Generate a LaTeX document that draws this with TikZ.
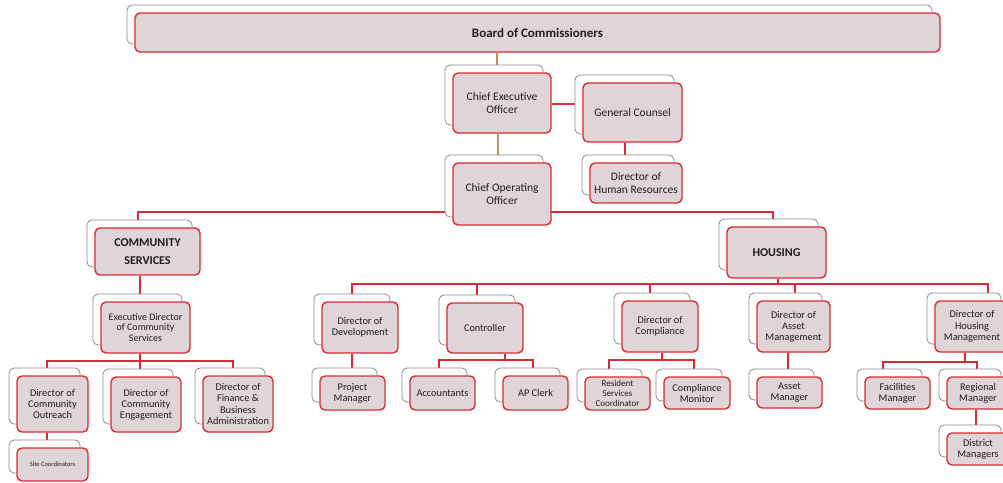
\documentclass[tikz,border=0pt]{standalone}
\usepackage{fontspec}
\setmainfont{Carlito}
\pgfdeclarelayer{background}
\pgfsetlayers{background,main}
\definecolor{boxred}{HTML}{D82C34}
\definecolor{boxfill}{HTML}{DFD5D9}
\definecolor{backgray}{HTML}{8A8A8A}
\definecolor{execline}{HTML}{CC8D55}
\definecolor{txt}{HTML}{1E1E1E}
\tikzset{
  backbox/.style={draw=backgray, fill=white, line width=0.8pt, rounded corners=5pt, inner sep=0pt},
  frontbox/.style={draw=boxred, fill=boxfill, line width=1.4pt, rounded corners=5pt, inner sep=1pt,
    align=center, text=txt, font=\fontsize{10.3}{11}\selectfont},
  bigtext/.style={font=\fontsize{11.5}{13}\selectfont},
  conn/.style={draw=boxred, line width=1.3pt},
  execconn/.style={draw=execline, line width=1.3pt},
}
\newcommand{\orgnode}[7][]{%
  \node[backbox, minimum width=#5, minimum height=#6] (#2b) at ({#3-8},{#4-8}) {};
  \node[frontbox, minimum width=#5, minimum height=#6, #1] (#2) at (#3,#4) {#7};}
\begin{document}
\begin{tikzpicture}[x=1pt,y=-1pt]
\useasboundingbox (0,0) rectangle (1003,482);

\orgnode[font=\bfseries\fontsize{13}{15}\selectfont]{board}{537.5}{32.5}{805}{39}{Board of Commissioners}
\orgnode[bigtext]{ceo}{502}{103}{98}{60}{Chief Executive\\Officer}
\orgnode[bigtext]{gc}{632.5}{112.5}{99}{59}{General Counsel}
\orgnode[bigtext]{dhr}{636}{183}{92}{40}{Director of\\Human Resources}
\orgnode[bigtext]{coo}{502}{194}{98}{62}{Chief Operating\\Officer}

\orgnode[font=\bfseries\fontsize{12}{18}\selectfont]{cs}{147.5}{251.5}{105}{47}{COMMUNITY\\SERVICES}
\orgnode[font=\fontsize{10}{10.7}\selectfont]{edcs}{145.5}{327.5}{89}{51}{Executive Director\\of Community\\Services}
\orgnode{dco}{52.5}{404}{71}{56}{Director of\\Community\\Outreach}
\orgnode{dce}{146}{404.5}{70}{55}{Director of\\Community\\Engagement}
\orgnode[font=\fontsize{10.3}{11.3}\selectfont]{dfba}{238}{404}{70}{56}{Director of\\Finance \&\\Business\\Administration}
\orgnode[font=\fontsize{6.5}{7}\selectfont]{sc}{52.5}{464.5}{71}{33}{Site Coordinators}

\orgnode[font=\bfseries\fontsize{12}{14}\selectfont]{hou}{776.5}{252.5}{99}{51}{HOUSING}
\orgnode{dod}{360}{327.5}{76}{51}{Director of\\Development}
\orgnode{ctrl}{485}{328}{76}{50}{Controller}
\orgnode{pm}{352.5}{393}{65}{34}{Project\\Manager}
\orgnode{acc}{442.5}{393}{65}{34}{Accountants}
\orgnode{apc}{535.5}{393}{65}{34}{AP Clerk}
\orgnode{doc}{660}{326.5}{76}{51}{Director of\\Compliance}
\orgnode[font=\fontsize{9}{10}\selectfont]{rsc}{617.5}{393.5}{65}{33}{Resident\\Services\\Coordinator}
\orgnode{cm}{697}{393}{66}{32}{Compliance\\Monitor}
\orgnode{dam}{793.5}{326.5}{73}{51}{Director of\\Asset\\Management}
\orgnode{am}{789.5}{392.5}{65}{31}{Asset\\Manager}
\orgnode[font=\fontsize{10.3}{11.5}\selectfont]{dhm}{972}{326.5}{74}{51}{Director of\\Housing\\Management}
\orgnode{fm}{897.5}{393}{65}{32}{Facilities\\Manager}
\orgnode{rm}{978}{393}{62}{32}{Regional\\Manager}
\orgnode{dm}{978}{449}{62}{32}{District\\Managers}

\coordinate (cooBar) at (0,212);
\coordinate (hbar) at (0,284);
\coordinate (lbar) at (0,361);
\coordinate (cbar) at (0,360);
\coordinate (dbar) at (0,362);

\begin{pgfonlayer}{background}
  \fill[white] (0,0) rectangle (1003,482);
  \draw[execconn] (board.south -| 497,0) -- (ceob.north -| 497,0);
  \draw[execconn] (ceo.south -| 498,0) -- (coob.north -| 498,0);
  \draw[conn] (ceo.east |- 0,104) -- (gcb.west |- 0,104);
  \draw[conn] (gc.south -| 625,0) -- (dhrb.north -| 625,0);
  % COO to divisions
  \draw[conn] (csb.north -| 138,0) |- (cooBar -| coo.center) -| (houb.north -| 773,0);
  % community services
  \draw[conn] (cs.south -| 140,0) -- (edcsb.north -| 140,0);
  \draw[conn] (edcs.south -| 140,0) -- (dceb.north -| 140,0);
  \draw[conn] (dcob.north -| 47,0) |- (lbar -| 140,0) -| (dfbab.north -| 233,0);
  \draw[conn] (dco.south -| 47,0) -- (scb.north -| 47,0);
  % housing
  \draw[conn] (hou.south -| 778,0) -- (hbar -| 778,0);
  \draw[conn] (dodb.north -| 352,0) |- (hbar -| 778,0) -| (dhmb.north -| 988,0);
  \draw[conn] (ctrlb.north -| 477,0) -- (hbar -| 477,0);
  \draw[conn] (docb.north -| 650,0) -- (hbar -| 650,0);
  \draw[conn] (damb.north -| 795,0) -- (hbar -| 795,0);
  \draw[conn] (dod.south -| 352,0) -- (pmb.north -| 352,0);
  \draw[conn] (ctrl.south -| 505,0) -- (cbar -| 505,0);
  \draw[conn] (accb.north -| 439,0) |- (cbar -| 505,0) -| (apcb.north -| 533,0);
  \draw[conn] (doc.south -| 662,0) -- (cbar -| 662,0);
  \draw[conn] (rscb.north -| 609,0) |- (cbar -| 662,0) -| (cmb.north -| 694,0);
  \draw[conn] (dam.south -| 788,0) -- (amb.north -| 788,0);
  \draw[conn] (dhm.south -| 965,0) -- (dbar -| 965,0);
  \draw[conn] (fmb.north -| 883,0) |- (dbar -| 965,0) -| (rmb.north -| 977,0);
  \draw[conn] (rm.south -| 976,0) -- (dmb.north -| 976,0);
\end{pgfonlayer}
\end{tikzpicture}
\end{document}
